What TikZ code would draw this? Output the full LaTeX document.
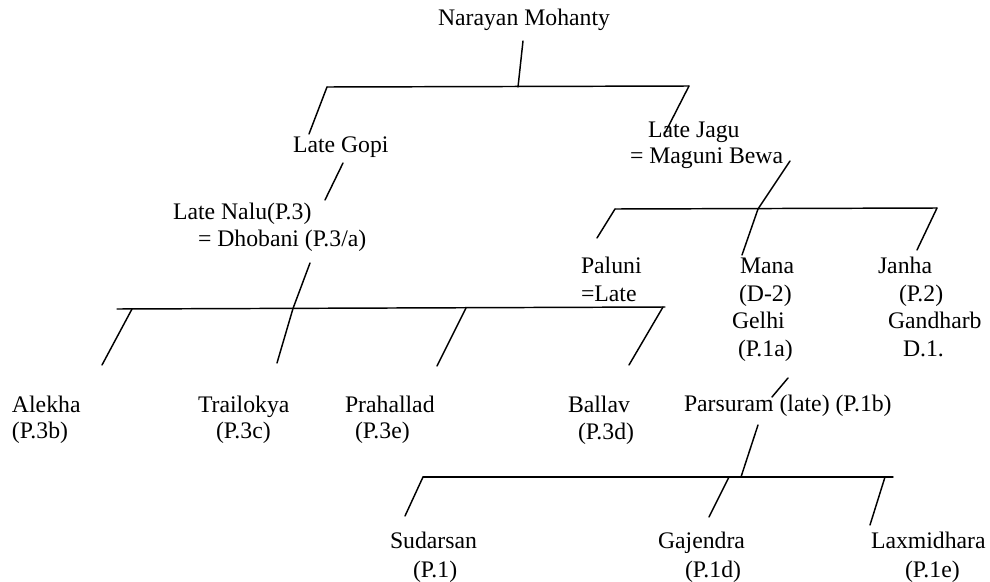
\documentclass[tikz,border=0pt]{standalone}
\usepackage{fontspec}
\setmainfont{Liberation Serif}
\begin{document}
\begin{tikzpicture}[x=0.75pt,y=-0.75pt,
  txt/.style={anchor=base west,inner sep=0pt,outer sep=0pt,font=\fontsize{17.8}{20.6}\selectfont},
  ln/.style={line width=1.1pt,line cap=round}]
\useasboundingbox (0,0) rectangle (990,582);
% ---- texts ----
\node[txt] (narayan) at (438,25) {Narayan Mohanty};
\node[txt] (gopi) at (293,152) {Late Gopi};
\node[txt] (jaguA) at (648,137) {Late Jagu};
\node[txt] (jaguB) at (630,163) {= Maguni Bewa};
\node[txt] (naluA) at (173,219) {Late Nalu(P.3)};
\node[txt] (naluB) at (198,246) {= Dhobani (P.3/a)};
\node[txt] (paluniA) at (581,273) {Paluni};
\node[txt] (paluniB) at (581,301) {=Late};
\node[txt] (manaA) at (740,273) {Mana};
\node[txt] (manaB) at (739,301) {(D-2)};
\node[txt] (manaC) at (732,328) {Gelhi};
\node[txt] (manaD) at (738,356) {(P.1a)};
\node[txt] (janhaA) at (878,273) {Janha};
\node[txt] (janhaB) at (899,301) {(P.2)};
\node[txt] (janhaC) at (888,328) {Gandharb};
\node[txt] (janhaD) at (903,356) {D.1.};
\node[txt] (alekhaA) at (12,412) {Alekha};
\node[txt] (alekhaB) at (12,438) {(P.3b)};
\node[txt] (trailA) at (198,412) {Trailokya};
\node[txt] (trailB) at (216,438) {(P.3c)};
\node[txt] (prahA) at (345,412) {Prahallad};
\node[txt] (prahB) at (355,438) {(P.3e)};
\node[txt] (ballavA) at (568,412) {Ballav};
\node[txt] (ballavB) at (578,439) {(P.3d)};
\node[txt] (parsuram) at (684,411) {Parsuram (late) (P.1b)};
\node[txt] (sudA) at (390,548) {Sudarsan};
\node[txt] (sudB) at (413,577) {(P.1)};
\node[txt] (gajA) at (658,548) {Gajendra};
\node[txt] (gajB) at (685,577) {(P.1d)};
\node[txt] (laxA) at (871,548) {Laxmidhara};
\node[txt] (laxB) at (905,577) {(P.1e)};
% ---- line end points ----
\coordinate (n0) at (523,41);
\coordinate (b1m) at (518,87);
\coordinate (b1l) at (327,87);
\coordinate (b1r) at (689,86);
\coordinate (g0) at (309,134);
\coordinate (j0) at (665,133);
\coordinate (g1) at (343,163);
\coordinate (g2) at (325,200);
\coordinate (nl0) at (310,263);
\coordinate (b2l) at (117,309);
\coordinate (b2r) at (665,307);
\coordinate (b2a) at (132,309);
\coordinate (b2t) at (293,308.5);
\coordinate (b2p) at (466,308);
\coordinate (b2b) at (663,307);
\coordinate (ea) at (102,365);
\coordinate (et) at (277,363);
\coordinate (ep) at (437,366);
\coordinate (eb) at (629,365);
\coordinate (jg1) at (790,161);
\coordinate (b3m) at (758,209);
\coordinate (b3l) at (615,209);
\coordinate (b3r) at (937,208);
\coordinate (ep1) at (597,238);
\coordinate (em1) at (742,255);
\coordinate (ej1) at (917,250);
\coordinate (gp1) at (788,378);
\coordinate (gp2) at (772,397);
\coordinate (ps1) at (758,425);
\coordinate (b4m) at (741,477);
\coordinate (b4l) at (423,477);
\coordinate (b4r) at (893,477);
\coordinate (b4g) at (729,477);
\coordinate (b4x) at (885,477);
\coordinate (es) at (405,516);
\coordinate (eg) at (709,517);
\coordinate (ex) at (870,525);
% ---- connectors ----
\draw[ln] (n0) -- (b1m);
\draw[ln] (b1l) -- (b1r);
\draw[ln] (b1l) -- (g0);
\draw[ln] (b1r) -- (j0);
\draw[ln] (g1) -- (g2);
\draw[ln] (nl0) -- (b2t);
\draw[ln] (b2l) -- (b2r);
\draw[ln] (b2a) -- (ea);
\draw[ln] (b2t) -- (et);
\draw[ln] (b2p) -- (ep);
\draw[ln] (b2b) -- (eb);
\draw[ln] (jg1) -- (b3m);
\draw[ln] (b3l) -- (b3r);
\draw[ln] (b3l) -- (ep1);
\draw[ln] (b3m) -- (em1);
\draw[ln] (b3r) -- (ej1);
\draw[ln] (gp1) -- (gp2);
\draw[ln] (ps1) -- (b4m);
\draw[ln] (b4l) -- (b4r);
\draw[ln] (b4l) -- (es);
\draw[ln] (b4g) -- (eg);
\draw[ln] (b4x) -- (ex);
\end{tikzpicture}
\end{document}
